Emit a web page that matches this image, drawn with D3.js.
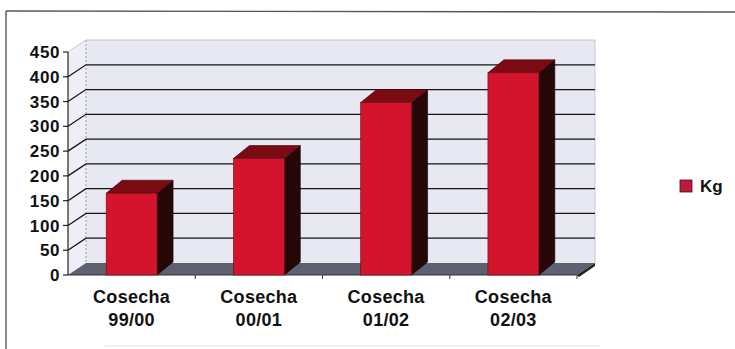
<!DOCTYPE html>
<html>
<head>
<meta charset="utf-8">
<script src="https://cdn.jsdelivr.net/npm/d3@7"></script>
<style>
  html, body { margin: 0; padding: 0; background: #ffffff; }
  svg { display: block; }
  text { font-family: "Liberation Sans", Arial, sans-serif; fill: #111; }
</style>
</head>
<body>
<svg id="chart" width="735" height="349"></svg>
<script>
// Harvest yields (Kg) per season
const categories = ["Cosecha 99/00", "Cosecha 00/01", "Cosecha 01/02", "Cosecha 02/03"];
const kgValues = [165, 235, 348, 408];
const yTicks = [0, 50, 100, 150, 200, 250, 300, 350, 400, 450];
const seriesName = "Kg";

const svg = d3.select("#chart");

// frame of the chart object
svg.append("line").attr("x1", 6).attr("y1", 11).attr("x2", 735).attr("y2", 12)
  .attr("stroke", "#555").attr("stroke-width", 1.4);
svg.append("line").attr("x1", 6).attr("y1", 11).attr("x2", 6).attr("y2", 349)
  .attr("stroke", "#555").attr("stroke-width", 1.4);
svg.append("line").attr("x1", 105).attr("y1", 346).attr("x2", 600).attr("y2", 346)
  .attr("stroke", "#e4e4e4").attr("stroke-width", 1);

// scales: front plane
const y = d3.scaleLinear().domain([0, 450]).range([275, 52]);
const x = d3.scaleBand().domain(categories).range([68, 577]).paddingInner(0).paddingOuter(0);

// depth offsets for the walls and the columns
const wallDx = 18, wallDy = -12;
const barDx = 16, barDy = -13;

const x0 = x.range()[0], x1 = x.range()[1];
const yTop = y(450), yBot = y(0);

const pts = arr => arr.map(p => p.join(",")).join(" ");

// back wall
svg.append("polygon")
  .attr("points", pts([[x0 + wallDx, yTop + wallDy], [x1 + wallDx, yTop + wallDy],
                       [x1 + wallDx, yBot + wallDy], [x0 + wallDx, yBot + wallDy]]))
  .attr("fill", "#e7e8f2");
// side wall
svg.append("polygon")
  .attr("points", pts([[x0, yBot], [x0, yTop], [x0 + wallDx, yTop + wallDy], [x0 + wallDx, yBot + wallDy]]))
  .attr("fill", "#eeeef6");
// floor
svg.append("polygon")
  .attr("points", pts([[x0, yBot], [x1, yBot], [x1 + wallDx, yBot + wallDy], [x0 + wallDx, yBot + wallDy]]))
  .attr("fill", "#5d6170");
// floor edge thickness at the right
svg.append("polygon")
  .attr("points", pts([[x1, yBot], [x1 + wallDx, yBot + wallDy], [x1 + wallDx, yBot + wallDy + 3], [x1 + 2, yBot + 2]]))
  .attr("fill", "#222");

// wall corner edges
svg.append("line")
  .attr("x1", x0 + wallDx).attr("y1", yTop + wallDy).attr("x2", x0 + wallDx).attr("y2", yBot + wallDy)
  .attr("stroke", "#9a9aaa").attr("stroke-width", 1).attr("stroke-dasharray", "2,2");
svg.append("line")
  .attr("x1", x1 + wallDx).attr("y1", yTop + wallDy).attr("x2", x1 + wallDx).attr("y2", yBot + wallDy)
  .attr("stroke", "#c8c8d4").attr("stroke-width", 1);

// gridlines on the side and back wall
const grid = svg.append("g");
yTicks.filter(v => v > 0).forEach(v => {
  const strong = v < 450;
  grid.append("polyline")
    .attr("points", pts([[x0, y(v)], [x0 + wallDx, y(v) + wallDy], [x1 + wallDx, y(v) + wallDy]]))
    .attr("fill", "none")
    .attr("stroke", strong ? "#151515" : "#c4c4d0")
    .attr("stroke-width", strong ? 1.3 : 1);
});

// y axis
const yAxis = svg.append("g");
yAxis.append("line").attr("x1", x0).attr("y1", yTop).attr("x2", x0).attr("y2", yBot)
  .attr("stroke", "#222").attr("stroke-width", 1.2);
yTicks.forEach(v => {
  yAxis.append("line").attr("x1", x0 - 5).attr("y1", y(v)).attr("x2", x0).attr("y2", y(v))
    .attr("stroke", "#222").attr("stroke-width", 1.2);
  yAxis.append("text")
    .attr("x", 60).attr("y", y(v)).attr("dy", "0.36em")
    .attr("text-anchor", "end")
    .attr("font-size", 17).attr("font-weight", "bold")
    .attr("letter-spacing", 0.6)
    .text(v);
});

// x axis front edge and ticks
const xAxis = svg.append("g");
xAxis.append("line").attr("x1", x0).attr("y1", yBot).attr("x2", x1).attr("y2", yBot)
  .attr("stroke", "#333").attr("stroke-width", 1);
categories.forEach(c => {
  const bx = x(c) + x.bandwidth();
  xAxis.append("line").attr("x1", bx).attr("y1", yBot).attr("x2", bx).attr("y2", yBot + 4)
    .attr("stroke", "#333").attr("stroke-width", 1);
  const parts = c.split(" ");
  const cx = x(c) + x.bandwidth() / 2;
  const t = xAxis.append("text")
    .attr("text-anchor", "middle")
    .attr("font-size", 18).attr("font-weight", "bold")
    .attr("letter-spacing", 0.3);
  t.append("tspan").attr("x", cx).attr("y", 303).text(parts[0]);
  t.append("tspan").attr("x", cx).attr("y", 326).text(parts[1]);
});

// 3D columns
const barW = x.bandwidth() * 0.4;
const bars = svg.append("g");
categories.forEach((c, i) => {
  const v = kgValues[i];
  const bl = x(c) + (x.bandwidth() - barW) / 2;
  const br = bl + barW;
  const bt = y(v), bb = y(0);
  // side face
  bars.append("polygon")
    .attr("points", pts([[br, bb], [br, bt], [br + barDx, bt + barDy], [br + barDx, bb + barDy]]))
    .attr("fill", "#260707").attr("stroke", "#120202").attr("stroke-width", 0.6);
  // top face
  bars.append("polygon")
    .attr("points", pts([[bl, bt], [br, bt], [br + barDx, bt + barDy], [bl + barDx, bt + barDy]]))
    .attr("fill", "#7c0a12").attr("stroke", "#3a0406").attr("stroke-width", 0.6);
  // front face
  bars.append("rect")
    .attr("x", bl).attr("y", bt).attr("width", barW).attr("height", bb - bt)
    .attr("fill", "#d3142c").attr("stroke", "#6a0a10").attr("stroke-width", 0.6);
});

// legend
const legend = svg.append("g");
legend.append("rect").attr("x", 680).attr("y", 180).attr("width", 12).attr("height", 12)
  .attr("fill", "#b81c3a").attr("stroke", "#5a0a18").attr("stroke-width", 0.8);
legend.append("text").attr("x", 700).attr("y", 192)
  .attr("font-size", 17).attr("font-weight", "bold").text(seriesName);
</script>
</body>
</html>
